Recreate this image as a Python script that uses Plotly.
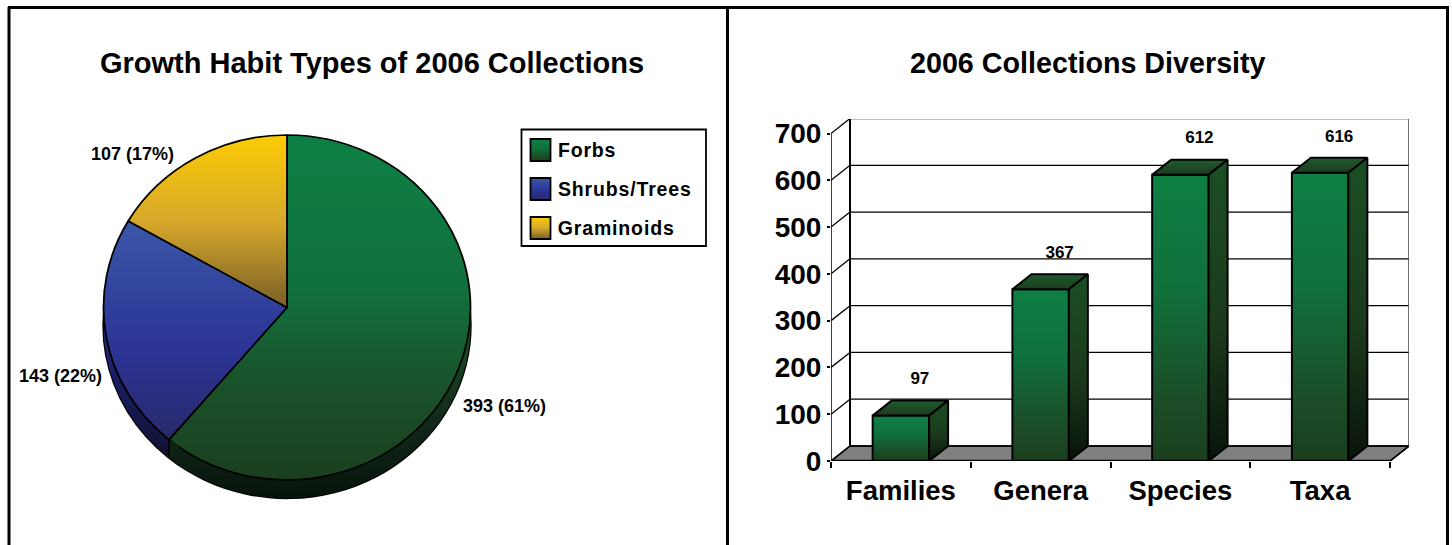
import math
import plotly.graph_objects as go

# ---- data ----
pie_labels = ["Forbs", "Shrubs/Trees", "Graminoids"]
pie_values = [393, 143, 107]
pie_pcts = [61, 22, 17]
bar_categories = ["Families", "Genera", "Species", "Taxa"]
bar_values = [97, 367, 612, 616]
y_ticks = [0, 100, 200, 300, 400, 500, 600, 700]
pie_title = "Growth Habit Types of 2006 Collections"
bar_title = "2006 Collections Diversity"

# ---- layout helpers (page pixels) ----
W, H = 1452, 545
FONT = "Liberation Sans"
def px(x): return x / W
def py(y): return 1 - y / H

CX, CY, R = 287, 307.5, 183.5
PIE_K = 172.5 / 183.5
DEPTH = 18
X_L, X_R, Y_BOT, Y_TOP = 831, 1409, 461, 119
UNIT_X = (1390 - 831) / 4.0
UNIT_Y = (461 - 133.5) / 700.0
X_MAX = -0.5 + (X_R - X_L) / UNIT_X
Y_MAX = (Y_BOT - Y_TOP) / UNIT_Y
DX = 19.0 / UNIT_X      # oblique depth in axis units
DY = 15.0 / UNIT_Y
BAR_W = 0.404
LEGEND_SPACING = 0.85

fig = go.Figure()

def pie(dy, colors, line=None, extra=0.0, line_w=0):
    r = R + extra
    fig.add_trace(go.Pie(
        values=pie_values, labels=pie_labels, sort=False, direction="clockwise", rotation=0,
        textinfo="none", hoverinfo="skip", showlegend=False,
        domain=dict(x=[px(CX - r), px(CX + r)], y=[py(CY + dy + r), py(CY + dy - r)]),
        marker=dict(colors=colors, line=dict(color=line or "#000", width=line_w)),
    ))

pie(DEPTH, ["#000", "#000", "#000"], extra=1.2)
pie(DEPTH, ["#123018", "#1a2060", "#4a3a18"])
pie(0, ["#0e8044", "#3a56a8", "#fdcc05"], line_w=1.8)

xs = list(range(len(bar_categories)))
fig.add_trace(go.Bar(
    x=xs, y=bar_values, width=BAR_W, hoverinfo="skip", showlegend=False,
    marker=dict(color="#0e8044", line=dict(color="#000", width=2)),
))

# oblique top and side faces, derived from the bar values
for i, v in zip(xs, bar_values):
    l, r = i - BAR_W / 2, i + BAR_W / 2
    fig.add_trace(go.Scatter(
        x=[l, l + DX, r + DX, r, l], y=[v, v + DY, v + DY, v, v], mode="lines",
        fill="toself", fillcolor="#1f5c2d", line=dict(color="#000", width=2),
        hoverinfo="skip", showlegend=False))
    fig.add_trace(go.Scatter(
        x=[r, r + DX, r + DX, r, r], y=[v, v + DY, DY, 0, v], mode="lines",
        fill="toself", fillcolor="#1b4a22", line=dict(color="#000", width=2),
        hoverinfo="skip", showlegend=False))

fig.add_trace(go.Scatter(
    x=[i + DX for i in xs], y=[v + DY + 20.5 / UNIT_Y for v in bar_values],
    text=[str(v) for v in bar_values], mode="text",
    textfont=dict(family=FONT, size=17, color="#000", weight=700),
    hoverinfo="skip", showlegend=False, cliponaxis=False))

shapes = []
# floor and walls
shapes.append(dict(type="path", layer="below", xref="x", yref="y",
    path=f"M -0.5 0 L {-0.5 + DX} {DY} L {3.5 + DX} {DY} L 3.5 0 Z",
    fillcolor="#808080", line=dict(color="#000", width=1.5)))
for t in y_ticks:
    shapes.append(dict(type="line", layer="below", xref="x", yref="y",
        x0=-0.5 + DX, x1=3.5 + DX, y0=t + DY, y1=t + DY, line=dict(color="#000", width=1.3)))
    shapes.append(dict(type="line", layer="below", xref="x", yref="y",
        x0=-0.5, x1=-0.5 + DX, y0=t, y1=t + DY, line=dict(color="#000", width=1.3)))
shapes.append(dict(type="line", layer="below", xref="x", yref="y",
    x0=-0.5 + DX, x1=-0.5 + DX, y0=DY, y1=y_ticks[-1] + DY, line=dict(color="#000", width=2)))
shapes.append(dict(type="line", layer="below", xref="x", yref="y",
    x0=3.5 + DX, x1=3.5 + DX, y0=DY, y1=y_ticks[-1] + DY, line=dict(color="#444", width=1.5)))
shapes.append(dict(type="line", layer="below", xref="x", yref="y",
    x0=3.5, x1=3.5 + DX, y0=0, y1=DY, line=dict(color="#000", width=1.5)))
shapes.append(dict(type="line", layer="below", xref="x", yref="y",
    x0=-0.5, x1=-0.5, y0=0, y1=y_ticks[-1], line=dict(color="#000", width=1.5)))
shapes.append(dict(type="line", layer="above", xref="x", yref="y",
    x0=-0.5, x1=3.5, y0=0, y1=0, line=dict(color="#000", width=2.5)))

# extruded wall edge at the Forbs / Shrubs boundary of the pie, from the data
ang = 2 * math.pi * pie_values[0] / sum(pie_values)
ex = CX + R * math.sin(ang)
ey = CY - R * PIE_K * math.cos(ang)
ey2 = ey + DEPTH
qx, qy = ex, ey2
for s in range(1, 200):
    t = s / 200
    qx = ex + (CX - ex) * t
    qy = ey2 + (CY + DEPTH - ey2) * t
    if ((qx - CX) / R) ** 2 + ((qy - CY) / (R * PIE_K)) ** 2 < 1:
        break
shapes.append(dict(type="path", xref="paper", yref="paper", fillcolor="#0f2414", line=dict(width=0),
    path=f"M {px(ex)} {py(ey)} L {px(ex)} {py(ey2)} L {px(qx)} {py(qy)} Z"))
shapes.append(dict(type="line", xref="paper", yref="paper", x0=px(ex), x1=px(ex), y0=py(ey), y1=py(ey2),
    line=dict(color="#000", width=1.5)))

# panel frame
for x0, y0, x1, y1 in [(8, 7.5, 1449, 7.5), (9, 7, 9, H), (727.5, 7, 727.5, H), (1447.5, 7, 1447.5, H)]:
    shapes.append(dict(type="line", xref="paper", yref="paper",
        x0=px(x0), x1=px(x1), y0=py(y0), y1=py(y1), line=dict(color="#000", width=3)))

# legend box
shapes.append(dict(type="rect", xref="paper", yref="paper",
    x0=px(521.5), x1=px(706), y0=py(246), y1=py(129.5), fillcolor="#fff", line=dict(color="#000", width=1.8)))
swatch_ids = []
annotations = []
for name, yc, c in zip(pie_labels, [150, 189, 228], ["#0e8044", "#3a56a8", "#fdcc05"]):
    swatch_ids.append(len(shapes))
    shapes.append(dict(type="rect", xref="paper", yref="paper",
        x0=px(530.5), x1=px(550.5), y0=py(yc + 11), y1=py(yc - 11), fillcolor=c, line=dict(color="#000", width=1.8)))
    annotations.append(dict(text=name, x=px(556 + len(name) * LEGEND_SPACING / 2), y=py(yc), xref="paper", yref="paper",
        showarrow=False, xanchor="left", yanchor="middle", font=dict(family=FONT, size=19.5, color="#000", weight=700)))

def label(text, x, y, size):
    annotations.append(dict(text=text, x=px(x), y=py(y), xref="paper", yref="paper", showarrow=False,
        xanchor="center", yanchor="middle", font=dict(family=FONT, size=size, color="#000", weight=700)))

label(pie_title, 371.5, 63, 29)
label(bar_title, 1088, 63, 28.7)
pie_label_pos = [(504, 406), (60.5, 376), (132, 154)]
for v, p, (x, y) in zip(pie_values, pie_pcts, pie_label_pos):
    label(f"{v} ({p}%)", x, y, 18)

fig.update_layout(
    width=W, height=H, margin=dict(l=0, r=0, t=0, b=0, autoexpand=False), paper_bgcolor="#fff", plot_bgcolor="rgba(0,0,0,0)",
    showlegend=False, shapes=shapes, annotations=annotations, autosize=False,
    xaxis=dict(domain=[px(X_L), px(X_R)], range=[-0.5, X_MAX], tickmode="array", tickvals=xs,
        ticktext=bar_categories, ticks="", showgrid=False, zeroline=False, showline=False,
        tickfont=dict(family=FONT, size=27.5, color="#000", weight=700),
        ticklabelstandoff=10,
        minor=dict(tickmode="array", tickvals=[-0.5, 0.5, 1.5, 2.5, 3.5], ticks="outside", ticklen=6,
                   tickwidth=1.5, tickcolor="#000", showgrid=False)),
    yaxis=dict(domain=[py(Y_BOT), py(Y_TOP)], range=[0, Y_MAX], tickmode="array", tickvals=y_ticks,
        ticks="outside", ticklen=3, tickwidth=1.5, tickcolor="#000", showgrid=False, zeroline=False,
        showline=False, tickfont=dict(family=FONT, size=28, color="#000", weight=700)),
)

swatch_js = ",".join(str(i) for i in swatch_ids)
post = """
document.documentElement.style.overflow='hidden';
document.body.style.margin='0';
var gd=document.querySelector('.plotly-graph-div');
var svg=gd.querySelector('svg.main-svg');
var NS='http://www.w3.org/2000/svg';
var defs=document.createElementNS(NS,'defs');svg.insertBefore(defs,svg.firstChild);
function G(id,st){var g=document.createElementNS(NS,'linearGradient');g.setAttribute('id',id);
 g.setAttribute('x1','0');g.setAttribute('y1','0');g.setAttribute('x2','0');g.setAttribute('y2','1');
 st.forEach(function(s){var e=document.createElementNS(NS,'stop');e.setAttribute('offset',s[0]);e.setAttribute('stop-color',s[1]);g.appendChild(e);});
 defs.appendChild(g);return 'url(#'+id+')';}
var green=G('gGreen',[[0,'#0e8044'],[0.45,'#11703c'],[0.75,'#1a5029'],[1,'#1b3f1e']]);
var blue=G('gBlue',[[0,'#3b57a9'],[0.6,'#2b3394'],[1,'#29296a']]);
var yellow=G('gYellow',[[0,'#fdcc05'],[0.5,'#d6a82a'],[1,'#7a5f28']]);
var dGreen=G('gDG',[[0,'#1a5029'],[0.55,'#1a4a22'],[0.8,'#10261a'],[1,'#08140a']]);
var dBlue=G('gDB',[[0,'#2b3394'],[0.5,'#1d2478'],[1,'#10102e']]);
var barF=G('gBarF',[[0,'#0e8044'],[0.4,'#10703c'],[0.75,'#1a5029'],[1,'#1b3f1e']]);
var barT=G('gBarT',[[0,'#1d5c2e'],[1,'#1f3a1f']]);
var barS=G('gBarS',[[0,'#1b4f24'],[0.55,'#1b3a1c'],[1,'#08140a']]);
var traces=gd.querySelectorAll('.pielayer > g.trace');
var K=%f,CY=%f,D=%f;
traces.forEach(function(t,i){
 var c=i==2?CY:CY+D;
 t.setAttribute('transform','translate(0,'+c+') scale(1,'+K+') translate(0,'+(-c)+')');
 var s=t.querySelectorAll('path.surface');
 if(i==1){s[0].style.fill=dGreen;s[1].style.fill=dBlue;}
 if(i==2){s[0].style.fill=green;s[1].style.fill=blue;s[2].style.fill=yellow;}
});
gd.querySelectorAll('.barlayer .point path').forEach(function(p){p.style.fill=barF;});
var sc=gd.querySelectorAll('.scatterlayer .trace');
for(var i=0;i<8;i++){var f=sc[i].querySelector('.js-fill');if(f)f.style.fill=(i%%2==0)?barT:barS;}
var sw=[%s],fills=[green,blue,yellow];
sw.forEach(function(idx,j){var p=gd.querySelector('.shapelayer path[data-index="'+idx+'"]');
 if(p)p.style.fill=fills[j];});
gd.querySelectorAll('.annotation-text').forEach(function(t,i){if(i<3)t.style.letterSpacing='%fpx';});
""" % (PIE_K, CY, DEPTH, swatch_js, LEGEND_SPACING)

fig.write_html("out.html", post_script=post, config=dict(displayModeBar=False, responsive=False),
               default_width=W, default_height=H)
